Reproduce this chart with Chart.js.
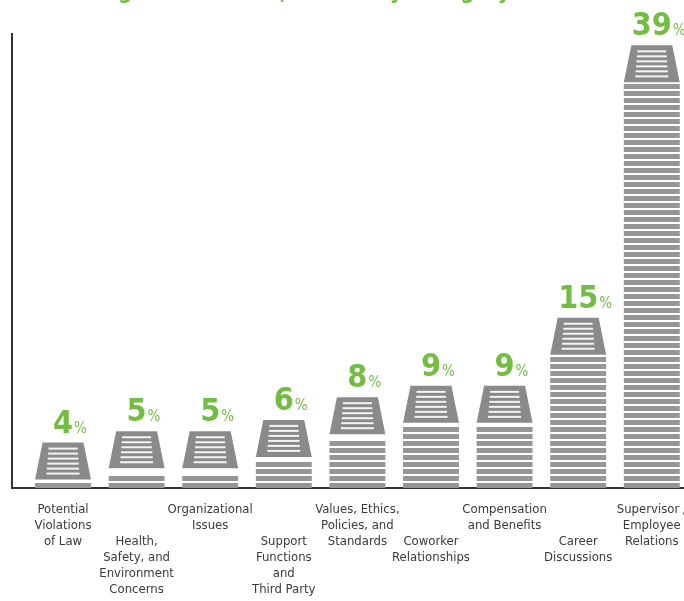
<!DOCTYPE html>
<html><head><meta charset="utf-8">
<script src="https://cdn.jsdelivr.net/npm/chart.js@4"></script>
<style>html,body{margin:0;padding:0;background:#fff;overflow:hidden}
#wrap{position:relative;width:720px;height:601px}</style>
</head><body><div id="wrap"><canvas id="c"></canvas></div>
<script>
const titleText = 'Percentage of Contacts, Sorted by Category';
const categories = [
  ['Potential','Violations','of Law'],
  ['Health,','Safety, and','Environment','Concerns'],
  ['Organizational','Issues'],
  ['Support','Functions','and','Third Party'],
  ['Values, Ethics,','Policies, and','Standards'],
  ['Coworker','Relationships'],
  ['Compensation','and Benefits'],
  ['Career','Discussions'],
  ['Supervisor /','Employee','Relations']
];
const values = [4, 5, 5, 6, 8, 9, 9, 15, 39];
const yMin = 0, yMax = 40;

const FONT = '"Liberation Sans Narrow", "DejaVu Sans Condensed", "Liberation Sans", sans-serif';
const GREEN = '#74bd43';
// staggered tick labels: odd categories pushed down two lines
const tickLines = categories.map((c, i) => i % 2 ? ['', ''].concat(c) : c);

const stackPlugin = {
  id: 'stacks',
  afterDatasetsDraw(chart) {
    const ctx = chart.ctx;
    const meta = chart.getDatasetMeta(0);
    meta.data.forEach((bar, i) => {
      const p = bar.getProps(['x', 'y', 'base', 'width'], true);
      const L = p.x - p.width / 2, R = p.x + p.width / 2;
      const top = p.y, base = p.base;
      const T = Math.min(37, base - top);
      ctx.save();
      ctx.fillStyle = '#969696';
      for (let y = base - 5; y >= top + T + 1; y -= 7) {
        ctx.fillRect(L, y, p.width, 5);
      }
      const inset = 7.5;
      ctx.fillStyle = '#8a8a8a';
      ctx.beginPath();
      ctx.moveTo(L + inset, top);
      ctx.lineTo(R - inset, top);
      ctx.lineTo(R, top + T);
      ctx.lineTo(L, top + T);
      ctx.closePath();
      ctx.fill();
      ctx.fillStyle = '#f4f4f4';
      const offs = [5, 10, 15, 20, 25, 30];
      offs.forEach((o, k) => {
        if (o + 2 > T - 2) return;
        const hw = 14.5 + k * 0.4;
        ctx.fillRect(p.x - hw, top + o, hw * 2, 2);
      });
      const num = String(values[i]);
      ctx.fillStyle = GREEN;
      ctx.textBaseline = 'alphabetic';
      ctx.textAlign = 'left';
      ctx.font = 'bold 32px ' + FONT;
      const w = ctx.measureText(num).width;
      const x0 = p.x - w / 2;
      ctx.fillText(num, x0, top - 10);
      ctx.font = '15px ' + FONT;
      ctx.fillText('%', x0 + w + 1, top - 10);
      ctx.restore();
    });
  },
  afterDraw(chart) {
    const ctx = chart.ctx;
    ctx.save();
    ctx.fillStyle = GREEN;
    ctx.font = 'bold 22px ' + FONT;
    ctx.textBaseline = 'alphabetic';
    ctx.textAlign = 'left';
    const pre = 'Percenta';
    const pw = ctx.measureText(pre).width;
    ctx.fillText(titleText, 118 - pw, -1);
    ctx.restore();
  }
};

new Chart(document.getElementById('c'), {
  type: 'bar',
  data: {
    datasets: [{
      data: values.map((v, i) => ({ x: i, y: v })),
      backgroundColor: 'rgba(0,0,0,0)',
      borderWidth: 0,
      barPercentage: 0.76,
      categoryPercentage: 1
    }]
  },
  options: {
    responsive: true,
    maintainAspectRatio: false,
    animation: false,
    layout: { padding: { left: 12, top: 34, right: 0, bottom: -11 } },
    plugins: { legend: { display: false }, tooltip: { enabled: false }, title: { display: false } },
    scales: {
      x: {
        type: 'linear',
        min: -0.693,
        max: 8.927,
        offset: false,
        grid: { display: false, drawTicks: false },
        border: { display: true, color: '#333', width: 2 },
        afterBuildTicks: s => { s.ticks = categories.map((_, i) => ({ value: i })); },
        ticks: {
          autoSkip: false, maxRotation: 0, minRotation: 0, padding: 14,
          color: '#3a3a3a',
          font: { family: FONT, size: 13, lineHeight: '16px' },
          callback: v => tickLines[v] || ''
        }
      },
      y: {
        min: yMin, max: yMax,
        grid: { display: false, drawTicks: false },
        border: { display: true, color: '#333', width: 2 },
        ticks: { display: false }
      }
    }
  },
  plugins: [stackPlugin]
});
</script></body></html>
